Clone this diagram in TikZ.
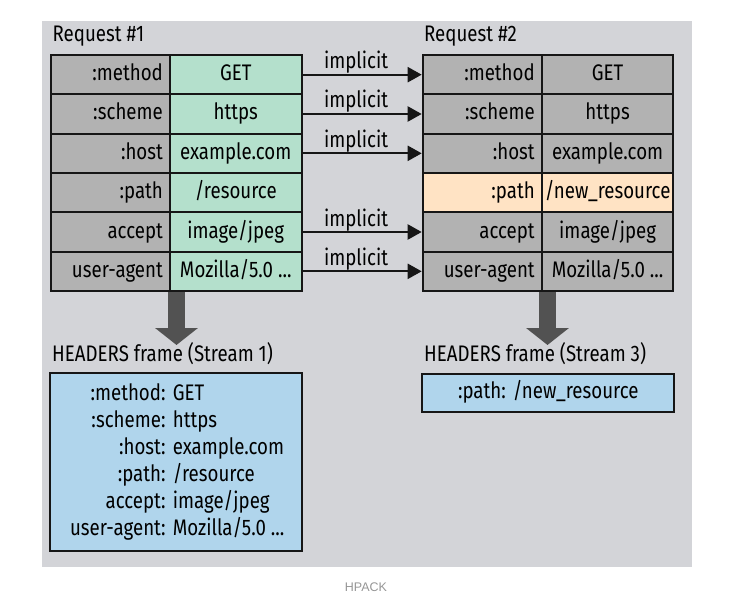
\documentclass[tikz,border=0pt]{standalone}
\usepackage{fontspec}
\setmainfont{Fira Sans}[FakeStretch=0.83]
\newfontfamily\capfont{Liberation Sans}
\usetikzlibrary{arrows.meta}
\definecolor{bggray}{RGB}{211,212,216}
\definecolor{cellgray}{RGB}{178,178,178}
\definecolor{cellgreen}{RGB}{180,224,204}
\definecolor{cellpeach}{RGB}{255,227,196}
\definecolor{boxblue}{RGB}{176,213,236}
\definecolor{arrowgray}{RGB}{82,82,82}
\definecolor{linecol}{RGB}{22,22,22}
\definecolor{captiongray}{RGB}{150,150,150}
\begin{document}
\begin{tikzpicture}[x=1pt,y=-1pt,
  font=\fontsize{22.5}{27}\selectfont,
  cell/.style={draw=linecol, line width=2pt, minimum height=39.33pt, inner ysep=0pt, text height=16pt, text depth=4pt},
  namecell/.style={cell, fill=cellgray, text width=105pt, inner xsep=7pt, align=right},
  valcell/.style={cell, minimum width=131.5pt, inner xsep=2pt},
  impl/.style={draw=linecol, line width=2.2pt, -{Triangle[length=14pt,width=15pt]}},
  lbl/.style={pos=0.45, anchor=base, yshift=6pt, inner sep=0pt},
  fat/.style={draw=arrowgray, line width=17pt, -{Triangle[length=17pt,width=42pt]}},
  title/.style={anchor=base west, inner sep=0pt},
  bluebox/.style={draw=linecol, line width=2.2pt, fill=boxblue}
]
\useasboundingbox (0,0) rectangle (730,612);
\fill[bggray] (42,21) rectangle (692,566.5);

% fat down arrows
\coordinate (d1s) at (176.5,291);
\coordinate (d1e) at (176.5,345);
\coordinate (d2s) at (547.5,291);
\coordinate (d2e) at (547.5,345);
\draw[fat] (d1s) -- (d1e);
\draw[fat] (d2s) -- (d2e);

% Request 1 table
\node[namecell] (Ln1) at (110.35,74.67) {:method};
\node[namecell] (Ln2) at (110.35,114) {:scheme};
\node[namecell] (Ln3) at (110.35,153.33) {:host};
\node[namecell] (Ln4) at (110.35,192.67) {:path};
\node[namecell] (Ln5) at (110.35,232) {accept};
\node[namecell] (Ln6) at (110.35,271.33) {user-agent};
\node[valcell, fill=cellgreen] (Lv1) at (235.75,74.67) {GET};
\node[valcell, fill=cellgreen] (Lv2) at (235.75,114) {https};
\node[valcell, fill=cellgreen] (Lv3) at (235.75,153.33) {example.com};
\node[valcell, fill=cellgreen] (Lv4) at (235.75,192.67) {/resource};
\node[valcell, fill=cellgreen] (Lv5) at (235.75,232) {image/jpeg};
\node[valcell, fill=cellgreen] (Lv6) at (235.75,271.33) {Mozilla/5.0 ...};

% Request 2 table
\node[namecell] (Rn1) at (482.2,74.67) {:method};
\node[namecell] (Rn2) at (482.2,114) {:scheme};
\node[namecell] (Rn3) at (482.2,153.33) {:host};
\node[namecell, fill=cellpeach] (Rn4) at (482.2,192.67) {:path};
\node[namecell] (Rn5) at (482.2,232) {accept};
\node[namecell] (Rn6) at (482.2,271.33) {user-agent};
\node[valcell, fill=cellgray] (Rv1) at (607.6,74.67) {GET};
\node[valcell, fill=cellgray] (Rv2) at (607.6,114) {https};
\node[valcell, fill=cellgray] (Rv3) at (607.6,153.33) {example.com};
\node[valcell, fill=cellpeach] (Rv4) at (607.6,192.67) {/new\_resource};
\node[valcell, fill=cellgray] (Rv5) at (607.6,232) {image/jpeg};
\node[valcell, fill=cellgray] (Rv6) at (607.6,271.33) {Mozilla/5.0 ...};

% implicit arrows
\draw[impl] (Lv1.east) -- (Rn1.west) node[lbl] (i1) {implicit};
\draw[impl] (Lv2.east) -- (Rn2.west) node[lbl] (i2) {implicit};
\draw[impl] (Lv3.east) -- (Rn3.west) node[lbl] (i3) {implicit};
\draw[impl] (Lv5.east) -- (Rn5.west) node[lbl] (i5) {implicit};
\draw[impl] (Lv6.east) -- (Rn6.west) node[lbl] (i6) {implicit};

% titles
\node[title] (t1) at (52.5,42) {Request \#1};
\node[title] (t2) at (424,42) {Request \#2};
\node[title] (h1) at (52,361.5) {HEADERS frame (Stream 1)};
\node[title] (h2) at (424,361.5) {HEADERS frame (Stream 3)};

% HEADERS frames
\node[bluebox, minimum width=251.5pt, minimum height=177.5pt] (B1) at (175.85,462) {};
\node[anchor=base east, inner sep=0pt] (B1k) at (165.7,400)
  {\begin{tabular}[t]{@{}r@{}}:method:\\:scheme:\\:host:\\:path:\\accept:\\user-agent:\end{tabular}};
\node[anchor=base west, inner sep=0pt] (B1v) at (172.7,400)
  {\begin{tabular}[t]{@{}l@{}}GET\\https\\example.com\\/resource\\image/jpeg\\Mozilla/5.0 ...\end{tabular}};

\node[bluebox, minimum width=252pt, minimum height=37.4pt] (B2) at (548.3,393) {};
\node[anchor=base, inner sep=0pt] (B2t) at (548.3,398) {:path:\hspace{7pt}/new\_resource};

% caption
\node[font=\capfont\fontsize{12.5}{15}\selectfont, text=captiongray, anchor=base, inner sep=0pt] (cap) at (366,591) {HPACK};
\end{tikzpicture}
\end{document}
